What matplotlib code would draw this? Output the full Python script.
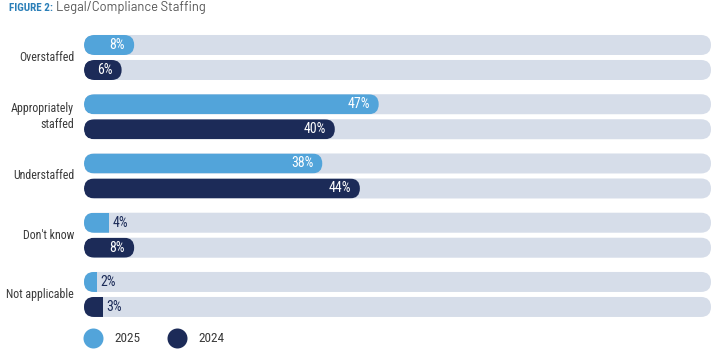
import matplotlib
matplotlib.use("Agg")
import matplotlib.pyplot as plt
from matplotlib.patches import FancyBboxPatch, Rectangle
from matplotlib.lines import Line2D
from matplotlib import font_manager

names = {f.name for f in font_manager.fontManager.ttflist}


def pick(prefs):
    for p in prefs:
        if p in names:
            return p
    return "DejaVu Sans"


FONT = pick(["Roboto Condensed", "Barlow Condensed", "Asap Condensed", "Archivo Narrow", "Roboto"])
TFONT = pick(["Barlow", "Roboto", "DejaVu Sans"])
plt.rcParams['font.family'] = [FONT, 'DejaVu Sans']

categories = ["Overstaffed", "Appropriately\nstaffed", "Understaffed", "Don't know", "Not applicable"]
values_2025 = [8, 47, 38, 4, 2]
values_2024 = [6, 40, 44, 8, 3]
series_names = ["2025", "2024"]

C25 = "#52a4da"
C24 = "#1c2b58"
TRACK = "#d6dde9"
TXT = "#3a3a3a"

W, H = 719, 364
fig = plt.figure(figsize=(W / 100, H / 100), dpi=100)
top_px, bot_px = 21.95, 330.0
ax = fig.add_axes([84 / W, 1 - bot_px / H, (711 - 84) / W, (bot_px - top_px) / H])
ax.set_xlim(0, 100)
ax.set_ylim(4.6, -0.6)
ax.axis("off")

px_x = 100 / (711 - 84)          # data units per pixel in x
px_y = 5.2 / (bot_px - top_px)   # data units per pixel in y
bar_h = 20 * px_y
off = 12.5 * px_y
r = 10 * px_x
aspect = px_y / px_x

for i, cat in enumerate(categories):
    for j, (vals, col) in enumerate([(values_2025, C25), (values_2024, C24)]):
        y = i - off if j == 0 else i + off
        v = vals[i]
        track = FancyBboxPatch((0, y - bar_h / 2), 100, bar_h,
                               boxstyle=f"round,pad=0,rounding_size={r}",
                               mutation_aspect=aspect, fc=TRACK, ec="none", zorder=1)
        ax.add_patch(track)
        inside = v >= 6
        if inside:
            bar = FancyBboxPatch((0, y - bar_h / 2), v, bar_h,
                                 boxstyle=f"round,pad=0,rounding_size={r}",
                                 mutation_aspect=aspect, fc=col, ec="none", zorder=2)
        else:
            bar = Rectangle((0, y - bar_h / 2), v, bar_h, fc=col, ec="none", zorder=2)
        ax.add_patch(bar)
        bar.set_clip_path(track)
        if inside:
            ax.annotate(f"{v}%", xy=(v, y), xytext=(-9 * 0.72, 0), textcoords="offset points",
                        ha="right", va="center", color="white", fontsize=10, zorder=3)
        else:
            ax.annotate(f"{v}%", xy=(v, y), xytext=(4 * 0.72, 0), textcoords="offset points",
                        ha="left", va="center", color=C24, fontsize=10, zorder=3)
    ax.annotate(cat, xy=(0, i), xytext=(-10 * 0.72, 0), textcoords="offset points",
                ha="right", va="center", color=TXT, fontsize=8.6, multialignment="right",
                linespacing=1.35)

# title
t1 = fig.text(9 / W, 1 - 8 / H, "FIGURE 2:", color="#2a7fb8", fontsize=8, fontweight="bold",
              va="center", ha="left")
fig.canvas.draw()
bb = t1.get_window_extent(fig.canvas.get_renderer())
fig.text((bb.x1 + 3) / W, 1 - 8 / H, "Legal/Compliance Staffing", color="#555555", fontsize=9.3,
         va="center", ha="left", family=[TFONT, "DejaVu Sans"])

# legend
handles = [Line2D([], [], marker="o", ls="none", ms=14.4, mfc=C25, mec="none"),
           Line2D([], [], marker="o", ls="none", ms=14.4, mfc=C24, mec="none")]
fig.legend(handles, series_names, loc="center left", bbox_to_anchor=(72 / W, 1 - 339 / H),
           ncol=2, frameon=False, fontsize=9.5, handletextpad=0.9, columnspacing=2.1,
           handlelength=1.4, labelcolor=TXT)

fig.savefig("out.png", dpi=100)
